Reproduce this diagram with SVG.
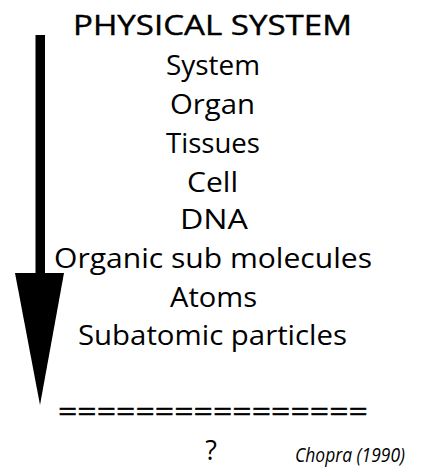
<svg xmlns="http://www.w3.org/2000/svg" width="431" height="472" viewBox="0 0 431 472">
<style>
.t{font-family:"Open Sans","Liberation Sans",sans-serif;font-size:27px;fill:#000;text-anchor:middle}
.h{stroke:#000;stroke-width:0.4}
.c{font-family:"Open Sans","Liberation Sans",sans-serif;font-size:20px;font-style:italic;fill:#000}
</style>
<rect width="431" height="472" fill="#fff"/>
<g id="connectors">
<rect x="35.5" y="35" width="9.5" height="240" fill="#000"/>
<polygon points="15,273 64,273 40,405" fill="#000"/>
</g>
<g id="title"><text class="t h" x="212.5" y="35" textLength="279" lengthAdjust="spacingAndGlyphs">PHYSICAL SYSTEM</text></g>
<g id="system"><text class="t" x="213" y="75" textLength="94" lengthAdjust="spacingAndGlyphs">System</text></g>
<g id="organ"><text class="t" x="212.5" y="114" textLength="85" lengthAdjust="spacingAndGlyphs">Organ</text></g>
<g id="tissues"><text class="t" x="213" y="153" textLength="94" lengthAdjust="spacingAndGlyphs">Tissues</text></g>
<g id="cell"><text class="t" x="212.5" y="192" textLength="51" lengthAdjust="spacingAndGlyphs">Cell</text></g>
<g id="dna"><text class="t" x="214" y="229" textLength="68" lengthAdjust="spacingAndGlyphs">DNA</text></g>
<g id="organic"><text class="t" x="213" y="268" textLength="318" lengthAdjust="spacingAndGlyphs">Organic sub molecules</text></g>
<g id="atoms"><text class="t" x="213.5" y="307" textLength="87" lengthAdjust="spacingAndGlyphs">Atoms</text></g>
<g id="subatomic"><text class="t" x="212.5" y="345" textLength="269" lengthAdjust="spacingAndGlyphs">Subatomic particles</text></g>
<g id="equals"><text class="t h" x="213" y="421" textLength="310" lengthAdjust="spacingAndGlyphs">================</text></g>
<g id="question"><text class="t" x="211" y="460">?</text></g>
<g id="citation"><text class="c" x="295" y="462" textLength="110" lengthAdjust="spacingAndGlyphs">Chopra (1990)</text></g>
</svg>
